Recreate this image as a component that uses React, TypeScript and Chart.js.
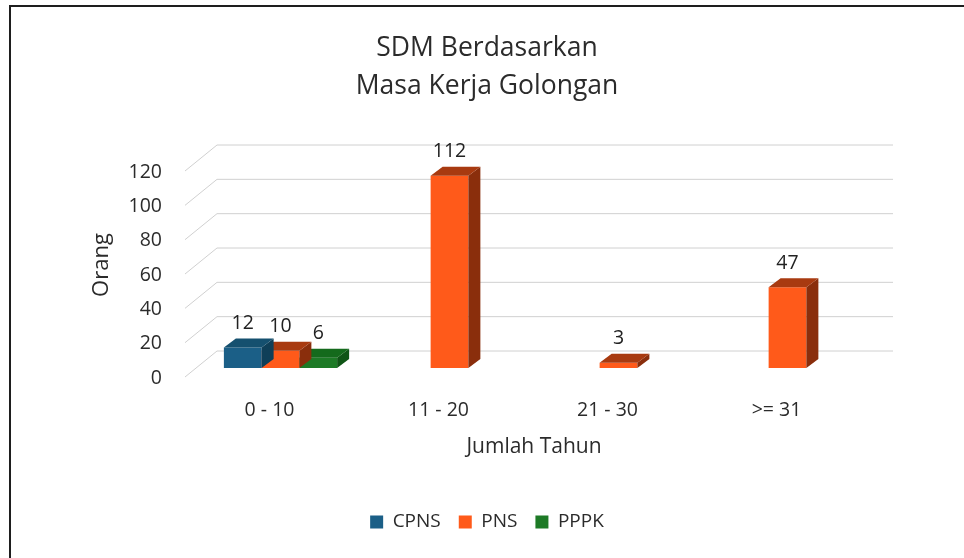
import React, { useEffect, useRef } from "react";
import { Chart, registerables } from "chart.js";

Chart.register(...registerables);

const categories = ["0 - 10", "11 - 20", "21 - 30", ">= 31"];
const cpnsValues: (number | null)[] = [12, null, null, null];
const pnsValues: (number | null)[] = [10, 112, 3, 47];
const pppkValues: (number | null)[] = [6, null, null, null];
const seriesNames = ["CPNS", "PNS", "PPPK"];
const titleLines = ["SDM Berdasarkan", "Masa Kerja Golongan"];
const xTitle = "Jumlah Tahun";
const yTitle = "Orang";

const FONT = "'Open Sans', 'Noto Sans', sans-serif";
const TEXT = "#2b2b2b";
const frontColors = ["#1b5f87", "#ff5a1a", "#1d7a26"];
const topColors = ["#15506f", "#a83a10", "#146a1c"];
const sideColors = ["#0f3f58", "#8a2e0c", "#0f5516"];

const BAR_DX = 12;
const BAR_DY = 9;
const WALL_FRONT = { dx: -11, dy: 9 };
const WALL_BACK = { dx: 21, dy: -17 };

const gridPlugin = {
  id: "grid3d",
  beforeDatasetsDraw(chart: any) {
    const { ctx, chartArea, scales } = chart;
    const y = scales.y;
    ctx.save();
    ctx.strokeStyle = "#d0d0d0";
    ctx.lineWidth = 1;
    y.ticks.forEach((t: any) => {
      const py = y.getPixelForValue(t.value);
      ctx.beginPath();
      ctx.moveTo(chartArea.left + WALL_FRONT.dx, py + WALL_FRONT.dy);
      ctx.lineTo(chartArea.left + WALL_BACK.dx, py + WALL_BACK.dy);
      ctx.lineTo(chartArea.right + WALL_BACK.dx, py + WALL_BACK.dy);
      ctx.stroke();
    });
    ctx.restore();
  },
};

const facesPlugin = {
  id: "faces3d",
  afterDatasetDraw(chart: any, args: any) {
    const { ctx } = chart;
    const idx = args.index;
    const ds = chart.data.datasets[idx];
    ctx.save();
    args.meta.data.forEach((el: any, i: number) => {
      const v = ds.data[i];
      if (v === null || v === undefined) return;
      const { x, y, base, width } = el.getProps(["x", "y", "base", "width"], true);
      const l = x - width / 2;
      const r = x + width / 2;
      ctx.fillStyle = sideColors[idx];
      ctx.beginPath();
      ctx.moveTo(r, y);
      ctx.lineTo(r + BAR_DX, y - BAR_DY);
      ctx.lineTo(r + BAR_DX, base - BAR_DY);
      ctx.lineTo(r, base);
      ctx.closePath();
      ctx.fill();
      ctx.fillStyle = topColors[idx];
      ctx.beginPath();
      ctx.moveTo(l, y);
      ctx.lineTo(r, y);
      ctx.lineTo(r + BAR_DX, y - BAR_DY);
      ctx.lineTo(l + BAR_DX, y - BAR_DY);
      ctx.closePath();
      ctx.fill();
    });
    ctx.restore();
  },
  afterDatasetsDraw(chart: any) {
    const { ctx } = chart;
    ctx.save();
    ctx.fillStyle = "#222222";
    ctx.font = `19.5px ${FONT}`;
    ctx.textAlign = "center";
    ctx.textBaseline = "middle";
    chart.data.datasets.forEach((ds: any, di: number) => {
      const meta = chart.getDatasetMeta(di);
      meta.data.forEach((el: any, i: number) => {
        const v = ds.data[i];
        if (v === null || v === undefined) return;
        const { x, y } = el.getProps(["x", "y"], true);
        ctx.fillText(String(v), x, y - 24);
      });
    });
    ctx.restore();
  },
};

export default function App() {
  const ref = useRef<HTMLCanvasElement | null>(null);

  useEffect(() => {
    if (!ref.current) return;
    const seriesValues = [cpnsValues, pnsValues, pppkValues];
    const chart = new Chart(ref.current, {
      type: "bar",
      data: {
        labels: categories,
        datasets: seriesNames.map((name, i) => ({
          label: name,
          data: seriesValues[i],
          backgroundColor: frontColors[i],
          borderWidth: 0,
          categoryPercentage: 0.67,
          barPercentage: 1.0,
          yAxisID: "y",
        })),
      },
      options: {
        responsive: false,
        animation: false,
        layout: { padding: { left: 0, right: 0, top: 0, bottom: 16.5 } },
        plugins: {
          title: {
            display: true,
            text: titleLines,
            color: TEXT,
            font: { family: FONT, size: 26.5, weight: "normal", lineHeight: 1.47 },
            padding: { top: 28.5, bottom: 55.6 },
          },
          legend: {
            display: true,
            position: "bottom",
            labels: {
              color: TEXT,
              font: { family: FONT, size: 19 },
              boxWidth: 13,
              boxHeight: 13,
              padding: 18,
            },
          },
          tooltip: { enabled: false },
        },
        scales: {
          x: {
            grid: { display: false, drawTicks: false },
            border: { display: false },
            ticks: {
              color: TEXT,
              font: { family: FONT, size: 19.5 },
              padding: 30.3,
              labelOffset: -11,
            },
            title: {
              display: true,
              text: xTitle,
              color: TEXT,
              font: { family: FONT, size: 21 },
              padding: { top: 15, bottom: 34.9 },
            },
            afterFit(s: any) {
              s.height = 126.5;
            },
          },
          y: {
            min: 0,
            max: 120,
            grid: { display: false, drawTicks: false },
            border: { display: false },
            ticks: {
              stepSize: 20,
              color: TEXT,
              font: { family: FONT, size: 19.5 },
              padding: 34,
              labelOffset: 10,
            },
            title: {
              display: true,
              text: yTitle,
              color: TEXT,
              font: { family: FONT, size: 22 },
              padding: { top: 79, bottom: 0 },
            },
            afterFit(s: any) {
              s.width = 186;
            },
          },
          yRight: {
            type: "linear",
            position: "right",
            display: true,
            grid: { display: false, drawTicks: false },
            border: { display: false },
            ticks: { display: false },
            afterFit(s: any) {
              s.width = 92;
            },
          },
        },
      } as any,
      plugins: [gridPlugin, facesPlugin],
    });
    return () => chart.destroy();
  }, []);

  return (
    <div
      style={{
        position: "fixed",
        left: 0,
        top: 0,
        width: 964,
        height: 558,
        background: "#ffffff",
        overflow: "hidden",
      }}
    >
      <div
        style={{
          position: "absolute",
          left: 10,
          top: 0,
          width: 954,
          height: 558,
        }}
      >
        <canvas ref={ref} width={954} height={558} style={{ display: "block" }} />
      </div>
      <div
        style={{
          position: "absolute",
          left: 9,
          top: 5,
          width: 980,
          height: 600,
          borderLeft: "2px solid #1e1e1e",
          borderTop: "2px solid #1e1e1e",
          pointerEvents: "none",
        }}
      />
    </div>
  );
}
